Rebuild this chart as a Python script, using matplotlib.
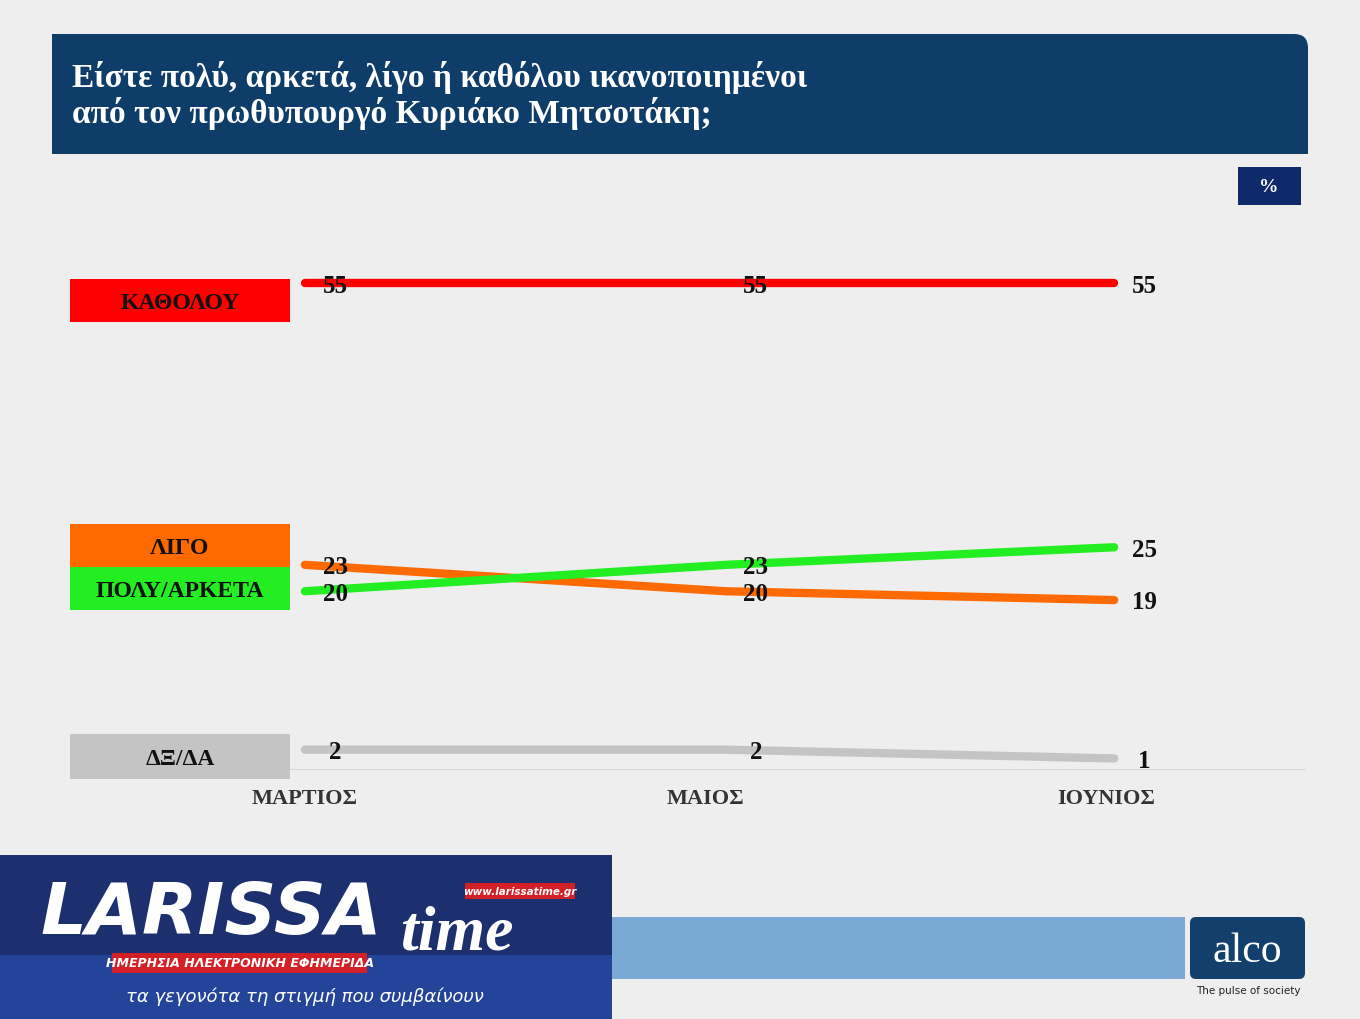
import matplotlib.pyplot as plt
from matplotlib.patches import Rectangle, FancyBboxPatch

months = ['ΜΑΡΤΙΟΣ', 'ΜΑΙΟΣ', 'ΙΟΥΝΙΟΣ']
series_names = ['ΚΑΘΟΛΟΥ', 'ΛΙΓΟ', 'ΠΟΛΥ/ΑΡΚΕΤΑ', 'ΔΞ/ΔΑ']
kathólou = [55, 55, 55]
ligo = [23, 20, 19]
poly = [20, 23, 25]
dxda = [2, 2, 1]
colors = ['#ff0000', '#ff6a00', '#22ee22', '#c4c4c4']

W, H = 1360, 1020
fig = plt.figure(figsize=(13.6, 10.2), dpi=100)
fig.patch.set_facecolor('#eeeeee')

# background layer in pixel coordinates
bg = fig.add_axes([0, 0, 1, 1], zorder=0)
bg.set_xlim(0, W)
bg.set_ylim(H, 0)
bg.axis('off')

serif = ['Liberation Serif', 'DejaVu Serif']

# title banner
bg.add_patch(FancyBboxPatch((52, 35), 1256, 120, boxstyle='round,pad=0,rounding_size=14',
                            fc='#0e3d69', ec='none'))
bg.add_patch(Rectangle((52, 35), 30, 120, fc='#0e3d69', ec='none'))
bg.add_patch(Rectangle((52, 110), 1256, 45, fc='#0e3d69', ec='none'))
bg.text(72, 78, 'Είστε πολύ, αρκετά, λίγο ή καθόλου ικανοποιημένοι', color='white',
        fontsize=24, fontweight='bold', family=serif, va='center')
bg.text(72, 113, 'από τον πρωθυπουργό Κυριάκο Μητσοτάκη;', color='white',
        fontsize=24, fontweight='bold', family=serif, va='center')

# percent box
bg.add_patch(Rectangle((1238, 168), 63, 38, fc='#0e2a6a', ec='none'))
bg.text(1269, 188, '%', color='white', fontsize=14, fontweight='bold', family=serif,
        ha='center', va='center')

# legend boxes
boxes = [(280, 323), (525, 568), (568, 611), (735, 780)]
for name, c, (y0, y1) in zip(series_names, colors, boxes):
    bg.add_patch(Rectangle((70, y0), 220, y1 - y0, fc=c, ec='none'))
    bg.text(180, (y0 + y1) / 2 + 2, name, fontsize=17, fontweight='bold', family=serif,
            ha='center', va='center', color='#111111')

# footer
bg.add_patch(Rectangle((612, 918), 573, 62, fc='#7aaad4', ec='none'))
bg.add_patch(FancyBboxPatch((1190, 918), 115, 62, boxstyle='round,pad=0,rounding_size=6',
                            fc='#123f6b', ec='none'))
bg.text(1247, 952, 'alco', color='white', fontsize=30, family=serif, ha='center', va='center')
bg.text(1248, 991, 'The pulse of society', color='#222222', fontsize=7.5, ha='center', va='center')

bg.add_patch(Rectangle((0, 856), 612, 164, fc='#24449a', ec='none'))
bg.add_patch(Rectangle((0, 856), 612, 100, fc='#1c2f6e', ec='none'))
bg.text(40, 915, 'LARISSA', color='white', fontsize=52, fontweight='bold', style='italic',
        va='center', family=['DejaVu Sans'])
bg.text(400, 935, 'time', color='white', fontsize=46, fontweight='bold', style='italic',
        va='center', family=serif)
bg.add_patch(Rectangle((465, 884), 110, 16, fc='#d31f26', ec='none'))
bg.text(520, 892, 'www.larissatime.gr', color='white', fontsize=7.5, fontweight='bold',
        style='italic', ha='center', va='center')
bg.add_patch(Rectangle((112, 954), 255, 20, fc='#d31f26', ec='none'))
bg.text(240, 964, 'ΗΜΕΡΗΣΙΑ ΗΛΕΚΤΡΟΝΙΚΗ ΕΦΗΜΕΡΙΔΑ', color='white', fontsize=9,
        fontweight='bold', style='italic', ha='center', va='center')
bg.text(305, 997, 'τα γεγονότα τη στιγμή που συμβαίνουν', color='white', fontsize=13,
        style='italic', ha='center', va='center')

# plot axes
ax = fig.add_axes([290 / W, 1 - 770 / H, (1305 - 290) / W, (770 - 180) / H], zorder=1)
ax.patch.set_alpha(0)
ax.set_xlim(-0.037, 2.484)
ax.set_ylim(-0.2, 66.85)
x = [0, 1.045, 2.01]
for vals, c in zip([kathólou, ligo, poly, dxda], colors):
    ax.plot(x, vals, color=c, lw=6, solid_capstyle='round')
    for xi, v in zip(x, vals):
        ax.text(xi + 0.075, v - 0.2, str(v), fontsize=18, fontweight='bold', family=serif,
                ha='center', va='center', color='#111111')
for s in ['top', 'right', 'left']:
    ax.spines[s].set_visible(False)
ax.spines['bottom'].set_color('#d8d8d8')
ax.set_yticks([])
ax.set_xticks([0, 0.995, 1.99])
ax.set_xticklabels(months, fontsize=16, fontweight='bold', family=serif, color='#333333')
ax.tick_params(axis='x', length=0, pad=14)

fig.savefig('out.png', dpi=100)
